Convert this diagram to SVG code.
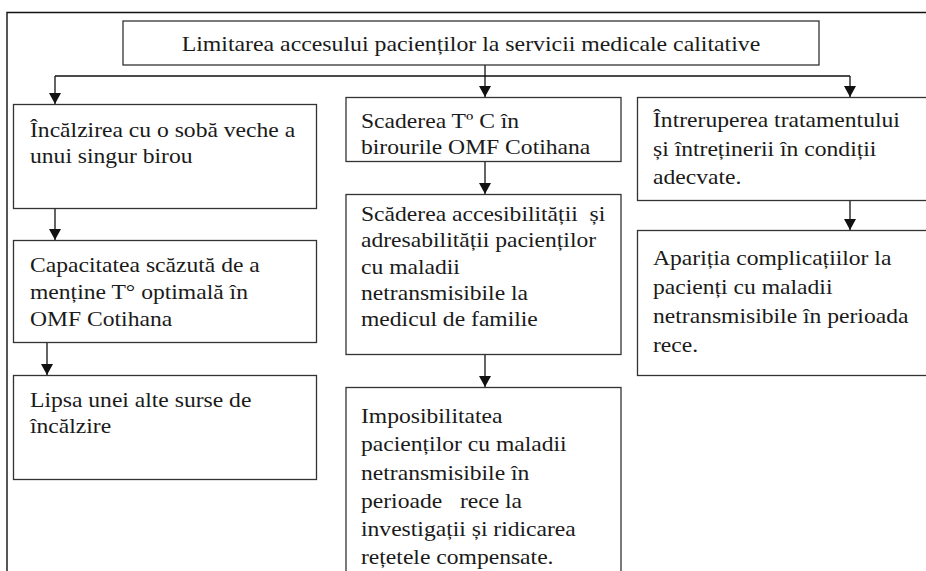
<svg xmlns="http://www.w3.org/2000/svg" width="926" height="571" viewBox="0 0 926 571">
<style>
.box{fill:#fff;stroke:#333;stroke-width:1.3}
.frame{fill:none;stroke:#111;stroke-width:1.4}
.conn{fill:none;stroke:#111;stroke-width:1.3}
text{font-family:"Liberation Serif","Times New Roman","DejaVu Serif",serif;fill:#1a1a1a;white-space:pre}
.t{font-size:22px}
.h{font-size:22px}
</style>
<defs>
<marker id="ah" viewBox="0 0 11 12" refX="11" refY="6" markerWidth="11" markerHeight="12" markerUnits="userSpaceOnUse" orient="auto">
<path d="M0,0 L11,6 L0,12 Z" fill="#111"/>
</marker>
</defs>
<rect width="926" height="571" fill="#fff"/>
<path class="frame" d="M7,571 V12.5 H926"/>

<g id="connectors">
<path class="conn" d="M485,65 V76 M55,76 H850"/>
<path class="conn" d="M55,76 V104" marker-end="url(#ah)"/>
<path class="conn" d="M485,76 V97" marker-end="url(#ah)"/>
<path class="conn" d="M850,76 V97" marker-end="url(#ah)"/>
<path class="conn" d="M55,208 V240" marker-end="url(#ah)"/>
<path class="conn" d="M47,342 V375" marker-end="url(#ah)"/>
<path class="conn" d="M485,162 V194" marker-end="url(#ah)"/>
<path class="conn" d="M485,354 V387" marker-end="url(#ah)"/>
<path class="conn" d="M850,200 V230" marker-end="url(#ah)"/>
</g>

<g id="root">
<rect class="box" x="123" y="21" width="696" height="44"/>
<g transform="translate(471 0) scale(1.082 1)"><text class="h" x="0" y="51" text-anchor="middle">Limitarea accesului pacienților la servicii medicale calitative</text></g>
</g>

<g id="n-soba">
<rect class="box" x="13.5" y="104.5" width="303" height="104"/>
<g transform="translate(30 0) scale(1.073 1)" class="t">
<text x="0" y="137">Încălzirea cu o sobă veche a</text>
<text x="0" y="163">unui singur birou</text>
</g>
</g>

<g id="n-capacitate">
<rect class="box" x="13.5" y="240.5" width="303" height="102"/>
<g transform="translate(30 0) scale(1.073 1)" class="t">
<text x="0" y="272">Capacitatea scăzută de a</text>
<text x="0" y="299">menține T° optimală în</text>
<text x="0" y="326">OMF Cotihana</text>
</g>
</g>

<g id="n-lipsa">
<rect class="box" x="13.5" y="375.5" width="303" height="104"/>
<g transform="translate(30 0) scale(1.073 1)" class="t">
<text x="0" y="407">Lipsa unei alte surse de</text>
<text x="0" y="433">încălzire</text>
</g>
</g>

<g id="n-scaderea-t">
<rect class="box" x="346" y="97.5" width="275" height="64"/>
<g transform="translate(361 0) scale(1.073 1)" class="t">
<text x="0" y="128">Scaderea Tº C în</text>
<text x="0" y="154">birourile OMF Cotihana</text>
</g>
</g>

<g id="n-accesibilitate">
<rect class="box" x="346" y="194.5" width="275" height="160"/>
<g transform="translate(361 0) scale(1.073 1)" class="t">
<text x="0" y="221">Scăderea accesibilității  și</text>
<text x="0" y="247">adresabilității pacienților</text>
<text x="0" y="274">cu maladii</text>
<text x="0" y="300">netransmisibile la</text>
<text x="0" y="326">medicul de familie</text>
</g>
</g>

<g id="n-imposibilitate">
<rect class="box" x="346" y="387.5" width="275" height="200"/>
<g transform="translate(361 0) scale(1.073 1)" class="t">
<text x="0" y="423">Imposibilitatea</text>
<text x="0" y="451.5">pacienților cu maladii</text>
<text x="0" y="480">netransmisibile în</text>
<text x="0" y="508">perioade   rece la</text>
<text x="0" y="536.5">investigații și ridicarea</text>
<text x="0" y="564">rețetele compensate.</text>
</g>
</g>

<g id="n-intrerupere">
<rect class="box" x="637.5" y="97.5" width="300" height="103"/>
<g transform="translate(653 0) scale(1.073 1)" class="t">
<text x="0" y="127">Întreruperea tratamentului</text>
<text x="0" y="156">și întreținerii în condiții</text>
<text x="0" y="184">adecvate.</text>
</g>
</g>

<g id="n-complicatii">
<rect class="box" x="637.5" y="230.5" width="300" height="145"/>
<g transform="translate(653 0) scale(1.073 1)" class="t">
<text x="0" y="265">Apariția complicațiilor la</text>
<text x="0" y="294">pacienți cu maladii</text>
<text x="0" y="323">netransmisibile în perioada</text>
<text x="0" y="352">rece.</text>
</g>
</g>
</svg>
